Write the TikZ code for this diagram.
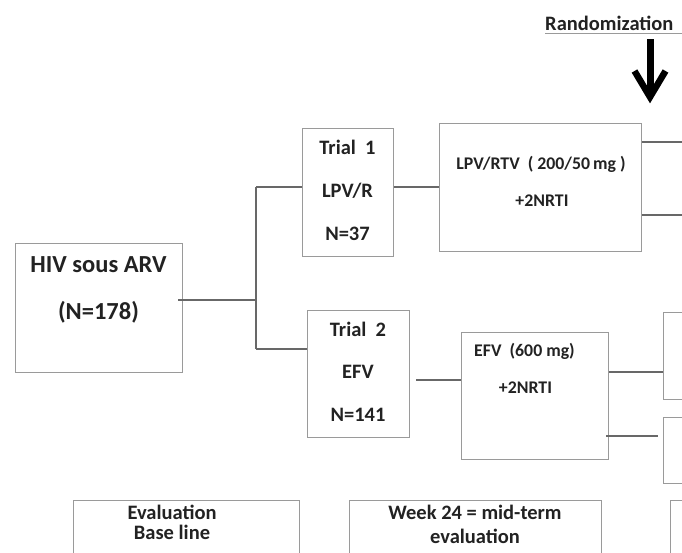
\documentclass[tikz,border=0pt]{standalone}
\usepackage{fontspec}
\setmainfont{Carlito}
\usetikzlibrary{calc}
\definecolor{boxgray}{HTML}{9A9A9A}
\definecolor{linegray}{HTML}{686868}
\definecolor{txtcol}{HTML}{222222}
\begin{document}
\begin{tikzpicture}[x=1pt,y=-1pt,
  box/.style={draw=boxgray, line width=1.4pt, inner sep=0pt, anchor=north west},
  conn/.style={draw=linegray, line width=2.6pt},
  txt/.style={text=txtcol, inner sep=0pt, anchor=base, font=\bfseries},
  big/.style={txt, font=\bfseries\fontsize{24.5}{28}\selectfont},
  mid/.style={txt, font=\bfseries\fontsize{20.5}{24}\selectfont},
  small/.style={txt, font=\bfseries\fontsize{17.8}{21}\selectfont}]
\useasboundingbox (0,0) rectangle (682,552);
\clip (0,0) rectangle (682,552);
% boxes
\node[box, minimum width=167pt, minimum height=129pt] (hiv) at (15,243) {};
\node[box, minimum width=91pt, minimum height=128pt] (t1) at (302,128) {};
\node[box, minimum width=102pt, minimum height=127pt] (t2) at (307,310) {};
\node[box, minimum width=202pt, minimum height=128pt] (lpv) at (439,123) {};
\node[box, minimum width=147pt, minimum height=127pt] (efv) at (461,332) {};
\node[box, minimum width=60pt, minimum height=87pt] (bA) at (663,312) {};
\node[box, minimum width=60pt, minimum height=66pt] (bB) at (663,417) {};
\node[box, minimum width=226pt, minimum height=80pt] (ev1) at (73,500) {};
\node[box, minimum width=252pt, minimum height=80pt] (ev2) at (349,500) {};
\node[box, minimum width=60pt, minimum height=80pt] (ev3) at (670,500) {};
% texts
\node[big] (hivA) at (98.5,272) {HIV sous ARV};
\node[big] (hivB) at (98.5,319) {(N=178)};
\node[mid] (t1A) at (347.5,154) {Trial~~1};
\node[mid] (t1B) at (347.5,197) {LPV/R};
\node[mid] (t1C) at (347.5,240) {N=37};
\node[mid] (t2A) at (358,336) {Trial~~2};
\node[mid] (t2B) at (358,378) {EFV};
\node[mid] (t2C) at (358,421) {N=141};
\node[small] (lpvA) at (541,169) {LPV/RTV~~(~200/50\,mg~)};
\node[small] (lpvB) at (542,206) {+2NRTI};
\node[small] (efvA) at (524.5,356) {EFV~~(600~mg)};
\node[small] (efvB) at (525.5,393) {+2NRTI};
\node[mid] (ev1A) at (172,519) {Evaluation};
\node[mid] (ev1B) at (172,539) {Base line};
\node[mid] (ev2A) at (475,519) {Week 24 = mid-term};
\node[mid] (ev2B) at (475,543) {evaluation};
\node[mid, anchor=base west] (rand) at (545,30) {Randomization};
% underline
\coordinate (ulEnd) at (682,33.5);
\draw[boxgray, line width=1pt] (rand.base west |- ulEnd) -- (ulEnd);
% randomization arrow
\coordinate (aTop) at (650,39);
\coordinate (aTip) at (650,97);
\draw[black, line width=7pt] (aTop) -- (aTip);
\draw[black, line width=6.5pt, line join=miter, miter limit=10] ($(aTip)+(-15.5,-26)$) -- (aTip) -- ($(aTip)+(15.5,-26)$);
% connectors
\coordinate (yH) at (0,300);
\coordinate (j) at (256,300);
\coordinate (y1) at (0,187);
\coordinate (y2) at (0,349);
\draw[conn] ($(hiv.east |- yH)+(-5,0)$) -- (j);
\draw[conn] (j |- y1) -- (j |- y2);
\draw[conn] (j |- y1) -- (t1.west |- y1);
\draw[conn] (j |- y2) -- (t2.west |- y2);
\draw[conn] (t1.east |- y1) -- (lpv.west |- y1);
\coordinate (y3) at (0,380);
\draw[conn] ($(t2.east |- y3)+(6,0)$) -- (efv.west |- y3);
\coordinate (r1) at (682,142);
\coordinate (r2) at (682,215);
\draw[conn] (lpv.east |- r1) -- (r1);
\draw[conn] (lpv.east |- r2) -- (r2);
\coordinate (yA) at (0,372);
\coordinate (yB) at (0,436);
\draw[conn] (efv.east |- yA) -- (bA.west |- yA);
\draw[conn] ($(efv.east |- yB)+(-3,0)$) -- ($(bB.west |- yB)+(-5,0)$);
\end{tikzpicture}
\end{document}
